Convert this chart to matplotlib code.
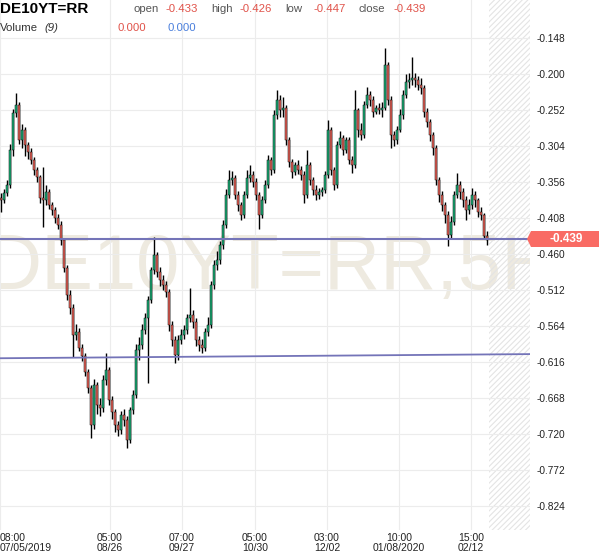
import numpy as np
import matplotlib
matplotlib.use('Agg')
import matplotlib.pyplot as plt
from matplotlib.patches import Polygon

plt.rcParams['font.family'] = ['Liberation Sans', 'DejaVu Sans']
plt.rcParams['hatch.linewidth'] = 0.8

# 5H candles, DE10YT=RR (yield, %)
first_open = -0.378
closes = [
    -0.382, -0.371, -0.360, -0.309, -0.256, -0.244, -0.295, -0.280, -0.302, -0.312,
    -0.324, -0.338, -0.348, -0.379, -0.382, -0.370, -0.389, -0.396, -0.408, -0.418,
    -0.439, -0.480, -0.519, -0.538, -0.577, -0.572, -0.595, -0.607, -0.630, -0.653,
    -0.707, -0.649, -0.678, -0.682, -0.642, -0.627, -0.670, -0.688, -0.707, -0.714,
    -0.692, -0.699, -0.728, -0.685, -0.663, -0.598, -0.591, -0.569, -0.552, -0.526,
    -0.483, -0.461, -0.486, -0.497, -0.504, -0.514, -0.562, -0.584, -0.606, -0.584,
    -0.577, -0.569, -0.552, -0.548, -0.558, -0.584, -0.591, -0.595, -0.572, -0.562,
    -0.504, -0.475, -0.468, -0.447, -0.418, -0.374, -0.353, -0.350, -0.374, -0.389,
    -0.403, -0.374, -0.350, -0.345, -0.356, -0.374, -0.403, -0.382, -0.360, -0.324,
    -0.338, -0.259, -0.237, -0.252, -0.249, -0.295, -0.327, -0.341, -0.331, -0.338,
    -0.345, -0.374, -0.331, -0.353, -0.367, -0.374, -0.370, -0.367, -0.345, -0.280,
    -0.338, -0.360, -0.302, -0.292, -0.309, -0.295, -0.324, -0.331, -0.252, -0.280,
    -0.288, -0.244, -0.230, -0.237, -0.254, -0.249, -0.252, -0.249, -0.187, -0.237,
    -0.288, -0.295, -0.280, -0.259, -0.230, -0.211, -0.208, -0.205, -0.208, -0.215,
    -0.220, -0.254, -0.269, -0.288, -0.306, -0.353, -0.374, -0.389, -0.403, -0.432,
    -0.413, -0.374, -0.360, -0.370, -0.382, -0.396, -0.389, -0.374, -0.382, -0.399,
    -0.403, -0.433, -0.439]
highs = [
    -0.372, -0.366, -0.353, -0.300, -0.250, -0.227, -0.240, -0.272, -0.276, -0.298,
    -0.306, -0.320, -0.334, -0.345, -0.334, -0.360, -0.366, -0.384, -0.392, -0.402,
    -0.412, -0.436, -0.476, -0.512, -0.532, -0.560, -0.566, -0.590, -0.602, -0.626,
    -0.648, -0.640, -0.644, -0.668, -0.634, -0.603, -0.622, -0.664, -0.684, -0.700,
    -0.686, -0.684, -0.694, -0.680, -0.656, -0.590, -0.580, -0.560, -0.545, -0.520,
    -0.478, -0.435, -0.456, -0.478, -0.490, -0.498, -0.510, -0.556, -0.578, -0.576,
    -0.568, -0.562, -0.546, -0.509, -0.540, -0.552, -0.578, -0.582, -0.566, -0.550,
    -0.498, -0.468, -0.455, -0.440, -0.410, -0.366, -0.338, -0.340, -0.346, -0.368,
    -0.384, -0.368, -0.338, -0.331, -0.340, -0.350, -0.370, -0.376, -0.352, -0.316,
    -0.320, -0.252, -0.223, -0.230, -0.233, -0.244, -0.290, -0.322, -0.326, -0.324,
    -0.332, -0.340, -0.309, -0.326, -0.348, -0.360, -0.364, -0.362, -0.340, -0.266,
    -0.276, -0.334, -0.296, -0.282, -0.288, -0.290, -0.290, -0.318, -0.223, -0.248,
    -0.270, -0.238, -0.218, -0.224, -0.232, -0.244, -0.242, -0.240, -0.162, -0.182,
    -0.232, -0.282, -0.274, -0.250, -0.222, -0.200, -0.198, -0.175, -0.198, -0.202,
    -0.206, -0.216, -0.248, -0.264, -0.284, -0.302, -0.348, -0.368, -0.384, -0.398,
    -0.404, -0.368, -0.343, -0.354, -0.364, -0.376, -0.380, -0.364, -0.368, -0.378,
    -0.392, -0.400, -0.426]
lows = [
    -0.399, -0.386, -0.375, -0.364, -0.318, -0.262, -0.300, -0.306, -0.318, -0.322,
    -0.330, -0.345, -0.356, -0.386, -0.421, -0.388, -0.395, -0.403, -0.414, -0.424,
    -0.446, -0.486, -0.526, -0.546, -0.608, -0.584, -0.600, -0.614, -0.636, -0.660,
    -0.725, -0.712, -0.690, -0.694, -0.688, -0.648, -0.678, -0.698, -0.716, -0.722,
    -0.720, -0.708, -0.740, -0.732, -0.690, -0.668, -0.612, -0.596, -0.575, -0.646,
    -0.530, -0.488, -0.492, -0.505, -0.512, -0.522, -0.570, -0.592, -0.617, -0.612,
    -0.590, -0.582, -0.575, -0.558, -0.566, -0.592, -0.600, -0.603, -0.600, -0.578,
    -0.566, -0.510, -0.482, -0.474, -0.452, -0.422, -0.378, -0.360, -0.380, -0.398,
    -0.410, -0.408, -0.378, -0.356, -0.362, -0.382, -0.423, -0.408, -0.386, -0.364,
    -0.345, -0.342, -0.264, -0.262, -0.262, -0.302, -0.334, -0.350, -0.346, -0.344,
    -0.352, -0.386, -0.378, -0.360, -0.374, -0.382, -0.380, -0.376, -0.372, -0.350,
    -0.345, -0.367, -0.364, -0.306, -0.316, -0.314, -0.330, -0.343, -0.336, -0.290,
    -0.295, -0.292, -0.248, -0.246, -0.262, -0.258, -0.258, -0.262, -0.252, -0.244,
    -0.306, -0.304, -0.300, -0.284, -0.264, -0.234, -0.220, -0.215, -0.218, -0.222,
    -0.228, -0.262, -0.276, -0.296, -0.316, -0.360, -0.384, -0.398, -0.414, -0.448,
    -0.438, -0.418, -0.378, -0.380, -0.392, -0.410, -0.402, -0.394, -0.392, -0.406,
    -0.410, -0.438, -0.447]
opens = [first_open] + closes[:-1]

# axis labels
y_levels = [-0.148, -0.200, -0.252, -0.304, -0.356, -0.408, -0.460,
            -0.512, -0.564, -0.616, -0.668, -0.720, -0.772, -0.824]
x_tick_pos = [-0.33, 36.33, 60.33, 84.67, 108.67, 132.67, 156.67]
x_tick_labels = ['08:00\n07/05/2019', '05:00\n08/26', '07:00\n09/27', '05:00\n10/30',
                 '03:00\n12/02', '10:00\n01/08/2020', '15:00\n02/12']

# drawn lines
hline_level = -0.438
trend_start, trend_end = -0.610, -0.604
volume_up, volume_down = 0.000, 0.000

RED = '#f3675c'
GREEN = '#1db57c'
LINE = '#7474b8'
W, H = 599, 558

def fx(px):
    return px / W

def fy(py):
    return 1 - py / H

fig = plt.figure(figsize=(W / 100, H / 100), dpi=100)
ax = fig.add_axes([0, fy(530), fx(530), 530 / H])

xmin, xmax = -1 / 3, 176.33
ax.set_xlim(xmin, xmax)
ax.set_ylim(-0.858, -0.0927)

# watermark (clipped by the plot area like in the original)
ax.text(0.512, 0.455, 'DE10YT=RR,5H', transform=ax.transAxes, fontsize=56,
        color='#eeeae0', ha='center', va='baseline', zorder=0, clip_on=True)

# future area
ax.axvspan(162.67, xmax, facecolor='none', edgecolor='#e4e4e4', hatch='//////',
           lw=0, zorder=0.5)

# grid
ax.set_yticks(y_levels)
ax.set_yticklabels([f'{v:.3f}' for v in y_levels])
ax.set_xticks(x_tick_pos)
ax.set_xticklabels(x_tick_labels)
ax.grid(True, color='#ececec', lw=0.8, zorder=1)
ax.set_axisbelow(True)
for s in ax.spines.values():
    s.set_visible(False)
ax.yaxis.tick_right()
ax.tick_params(axis='y', length=0, pad=5, labelsize=7.3, colors='#222222')
ax.tick_params(axis='x', length=0, pad=2, labelsize=7.5, colors='#222222')
labs = ax.get_xticklabels()
labs[0].set_ha('left')
for lab in labs:
    lab.set_linespacing(1.05)

# candles
x = np.arange(len(closes))
o = np.array(opens)
c = np.array(closes)
ax.vlines(x, lows, highs, color='black', lw=1.0, zorder=3)
cols = [GREEN if cc >= oo else RED for oo, cc in zip(o, c)]
ax.bar(x, c - o, bottom=o, width=0.55, color=cols, edgecolor='black',
       linewidth=0.35, zorder=4)

# horizontal + trend lines
ax.axhline(hline_level, color=LINE, lw=1.5, zorder=5)
ax.plot([xmin, xmax], [trend_start, trend_end], color=LINE, lw=1.3, zorder=5)

# last price tag
ty = 239
tag = Polygon([(fx(527), fy(ty)), (fx(531), fy(231)), (fx(599), fy(231)),
               (fx(599), fy(247)), (fx(531), fy(247))], closed=True,
              transform=fig.transFigure, facecolor='#f96b64', edgecolor='none')
fig.patches.append(tag)
fig.text(fx(566), fy(ty), f'{closes[-1]:.3f}', color='white', fontsize=8.5,
         fontweight='bold', ha='center', va='center')

# header
fig.text(fx(0), fy(13), 'DE10YT=RR', fontsize=11, fontweight='bold',
         color='black', va='baseline')
hdr = [('open', opens[-1], 133, 166), ('high', highs[-1], 211, 240),
       ('low', lows[-1], 285, 313), ('close', closes[-1], 358, 393)]
for name, val, lx, vx in hdr:
    fig.text(fx(lx), fy(11.5), name, fontsize=8.2, color='#555555', va='baseline')
    fig.text(fx(vx), fy(11.5), f'{val:.3f}', fontsize=8.2, color='#e0534a',
             va='baseline')
fig.text(fx(0), fy(31), 'Volume', fontsize=8.2, color='#333333', va='baseline')
fig.text(fx(44), fy(31), '(9)', fontsize=8.2, color='#333333', va='baseline',
         style='italic')
fig.text(fx(118), fy(31), f'{volume_up:.3f}', fontsize=8.2, color='#e0534a',
         va='baseline')
fig.text(fx(167), fy(31), f'{volume_down:.3f}', fontsize=8.2, color='#4a7fdc',
         va='baseline')

fig.savefig('out.png', dpi=100)
